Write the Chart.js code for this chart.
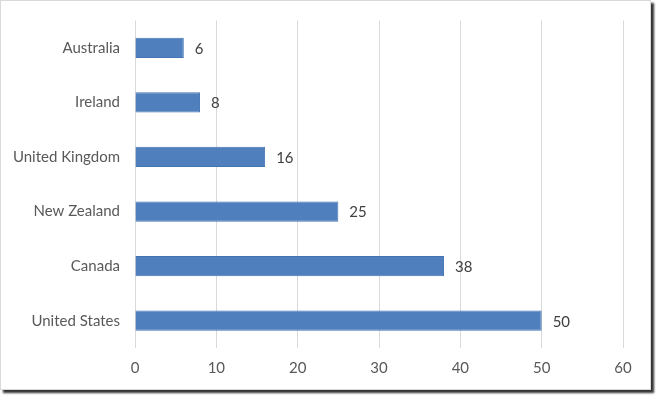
<!DOCTYPE html>
<html>
<head>
<meta charset="utf-8">
<script src="https://cdn.jsdelivr.net/npm/chart.js@4/dist/chart.umd.min.js"></script>
<style>
  html, body { margin: 0; padding: 0; background: #fff; }
  .frame {
    position: absolute; left: 0; top: 0;
    width: 649px; height: 388px;
    border: 1px solid #d9d9d9;
    box-shadow: 3px 3px 2px #333;
    background: #fff;
  }
  #wrap { position: absolute; left: 0; top: 0; width: 656px; height: 395px; }
</style>
</head>
<body>
<div class="frame"></div>
<div id="wrap"><canvas id="chart" width="656" height="395"></canvas></div>
<script>
// values
const countries = ['Australia', 'Ireland', 'United Kingdom', 'New Zealand', 'Canada', 'United States'];
const counts = [6, 8, 16, 25, 38, 50];
const xTicks = [0, 10, 20, 30, 40, 50, 60];

const FONT = 'Lato, "Open Sans", sans-serif';

// draws the number to the right of each bar
const barLabels = {
  id: 'barLabels',
  afterDatasetsDraw(chart) {
    const ctx = chart.ctx;
    const meta = chart.getDatasetMeta(0);
    ctx.save();
    ctx.font = '15px ' + FONT;
    ctx.fillStyle = '#404040';
    ctx.textAlign = 'left';
    ctx.textBaseline = 'middle';
    meta.data.forEach((bar, i) => {
      ctx.fillText(String(counts[i]), bar.x + 11, bar.y + 1);
    });
    ctx.restore();
  }
};

new Chart(document.getElementById('chart'), {
  type: 'bar',
  data: {
    labels: countries,
    datasets: [{
      data: counts,
      backgroundColor: '#4f7fbd',
      borderColor: '#4373b0',
      borderWidth: 1,
      barPercentage: 0.37,
      categoryPercentage: 1
    }]
  },
  options: {
    indexAxis: 'y',
    responsive: false,
    animation: false,
    layout: { padding: { top: 20.5, right: 33, bottom: 0, left: 0 } },
    plugins: { legend: { display: false }, tooltip: { enabled: false } },
    scales: {
      x: {
        min: 0, max: 60,
        afterBuildTicks(scale) { scale.ticks = xTicks.map(v => ({ value: v })); },
        afterFit(scale) { scale.height = 47; },
        grid: { display: true, color: '#d9d9d9', lineWidth: 1, drawTicks: false },
        border: { display: false },
        ticks: { color: '#595959', font: { family: FONT, size: 15 }, padding: 11 }
      },
      y: {
        afterFit(scale) {
          scale.width = 135;
          // the tick padding otherwise pushes the plot area down to y=24
          scale.paddingTop = 0;
          scale.paddingBottom = 0;
        },
        grid: { display: false, drawTicks: false },
        border: { display: false },
        ticks: { color: '#595959', font: { family: FONT, size: 15 }, padding: 15 }
      }
    }
  },
  plugins: [barLabels]
});
</script>
</body>
</html>
